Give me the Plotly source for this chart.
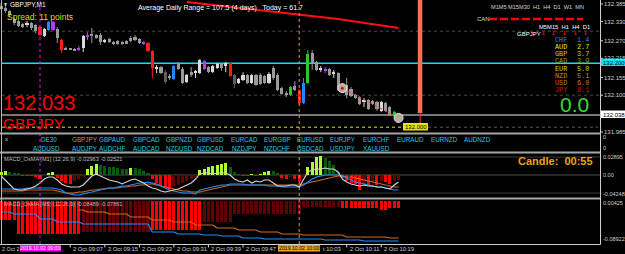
import plotly.graph_objects as go

W, H = 625, 254
SANS = "Liberation Sans, Arial, sans-serif"
MONO = "Liberation Mono, monospace"

# ---------------- data ----------------
minutes = list(range(531, 624))  # M1 bars, minutes since midnight (08:51 .. 10:23)

opens = [
    132.379, 132.373, 132.363, 132.338, 132.332, 132.322, 132.319, 132.326, 132.319, 132.313,
    132.285, 132.304, 132.329, 132.307, 132.272, 132.247, 132.244, 132.244, 132.246, 132.247,
    132.285, 132.291, 132.288, 132.288, 132.269, 132.276, 132.266, 132.269, 132.266, 132.269,
    132.279, 132.282, 132.276, 132.266, 132.263, 132.238, 132.185, 132.188, 132.172, 132.160,
    132.151, 132.201, 132.182, 132.141, 132.172, 132.172, 132.169, 132.207, 132.188, 132.172,
    132.185, 132.197, 132.191, 132.201, 132.163, 132.138, 132.147, 132.163, 132.138, 132.163,
    132.163, 132.160, 132.138, 132.185, 132.163, 132.122, 132.104, 132.101, 132.129, 132.116,
    132.076, 132.138, 132.232, 132.204, 132.182, 132.179, 132.182, 132.169, 132.169, 132.129,
    132.132, 132.119, 132.101, 132.094, 132.082, 132.085, 132.082, 132.079, 132.051, 132.076,
    132.063, 132.035, 132.035]
highs = [
    132.388, 132.382, 132.366, 132.344, 132.335, 132.326, 132.332, 132.329, 132.322, 132.316,
    132.310, 132.332, 132.332, 132.313, 132.276, 132.251, 132.247, 132.247, 132.254, 132.288,
    132.297, 132.310, 132.291, 132.294, 132.276, 132.279, 132.269, 132.272, 132.269, 132.272,
    132.285, 132.288, 132.279, 132.269, 132.266, 132.241, 132.194, 132.191, 132.179, 132.166,
    132.194, 132.204, 132.188, 132.166, 132.188, 132.179, 132.213, 132.210, 132.191, 132.194,
    132.201, 132.201, 132.204, 132.204, 132.166, 132.154, 132.172, 132.166, 132.166, 132.166,
    132.169, 132.163, 132.172, 132.191, 132.169, 132.126, 132.113, 132.129, 132.144, 132.119,
    132.154, 132.241, 132.241, 132.207, 132.191, 132.188, 132.185, 132.179, 132.172, 132.138,
    132.154, 132.126, 132.104, 132.097, 132.091, 132.088, 132.085, 132.082, 132.082, 132.079,
    132.066, 132.051, 132.041]
lows = [
    132.366, 132.357, 132.344, 132.319, 132.313, 132.310, 132.313, 132.304, 132.294, 132.285,
    132.282, 132.301, 132.301, 132.263, 132.232, 132.241, 132.241, 132.238, 132.238, 132.235,
    132.272, 132.263, 132.276, 132.257, 132.263, 132.263, 132.257, 132.257, 132.257, 132.260,
    132.266, 132.269, 132.260, 132.257, 132.235, 132.154, 132.169, 132.166, 132.135, 132.147,
    132.147, 132.179, 132.135, 132.138, 132.157, 132.154, 132.166, 132.179, 132.169, 132.169,
    132.182, 132.176, 132.172, 132.157, 132.122, 132.135, 132.144, 132.135, 132.135, 132.129,
    132.132, 132.135, 132.135, 132.147, 132.113, 132.101, 132.094, 132.097, 132.113, 132.072,
    132.072, 132.135, 132.179, 132.176, 132.172, 132.169, 132.160, 132.154, 132.113, 132.107,
    132.091, 132.094, 132.088, 132.069, 132.063, 132.054, 132.069, 132.051, 132.047, 132.047,
    132.035, 132.032, 132.029]
closes = [
    132.369, 132.363, 132.351, 132.326, 132.316, 132.316, 132.326, 132.310, 132.301, 132.288,
    132.307, 132.329, 132.304, 132.279, 132.241, 132.244, 132.243, 132.241, 132.244, 132.285,
    132.284, 132.285, 132.279, 132.266, 132.268, 132.266, 132.260, 132.260, 132.260, 132.263,
    132.269, 132.272, 132.263, 132.260, 132.238, 132.185, 132.184, 132.169, 132.141, 132.154,
    132.191, 132.182, 132.138, 132.163, 132.166, 132.171, 132.210, 132.182, 132.172, 132.191,
    132.197, 132.185, 132.201, 132.160, 132.135, 132.151, 132.163, 132.138, 132.163, 132.132,
    132.135, 132.138, 132.166, 132.154, 132.116, 132.104, 132.103, 132.126, 132.116, 132.076,
    132.138, 132.229, 132.201, 132.179, 132.180, 132.178, 132.163, 132.168, 132.116, 132.113,
    132.101, 132.097, 132.091, 132.072, 132.080, 132.057, 132.072, 132.057, 132.079, 132.051,
    132.038, 132.047, 132.033]
candle_kind = [
    'g', 'g', 'g', 'g', 'g', 'g', 'w', 'g', 'g', 'r',
    'w', 'b', 'p', 'g', 'r', 'g', 'g', 'g', 'p', 'w',
    'p', 'g', 'g', 'g', 'w', 'g', 'g', 'g', 'g', 'g',
    'g', 'g', 'g', 'p', 'r', 'r', 'w', 'g', 'd', 'g',
    'b', 'g', 'g', 'w', 'g', 'w', 'w', 'p', 'g', 'w',
    'w', 'g', 'w', 'r', 'd', 'w', 'w', 'g', 'w', 'g',
    'g', 'g', 'w', 'g', 'g', 'g', 'g', 'G', 'g', 'r',
    'b', 'G', 'g', 'g', 'w', 'p', 'g', 'w', 'g', 'g',
    'g', 'g', 'g', 'g', 'w', 'g', 'g', 'g', 'w', 'g',
    'g', 'G', 'g']

# MACD_OsMA [M1]
m1_hist = [
    0.006, 0.008, 0.006, 0.004, 0.004, -0.002, -0.002, -0.002, -0.004, -0.008,
    -0.002, 0.004, 0.006, -0.006, -0.012, -0.016, -0.018, -0.012, -0.008, -0.004,
    0.012, 0.018, 0.022, 0.020, 0.018, 0.016, 0.016, 0.014, 0.012, 0.012,
    0.014, 0.014, 0.012, 0.008, 0.004, -0.008, -0.016, -0.022, -0.026, -0.028,
    -0.022, -0.020, -0.016, -0.012, -0.008, -0.004, 0.010, 0.012, 0.016, 0.018,
    0.020, 0.022, 0.024, 0.016, 0.006, 0.002, -0.002, -0.002, 0.002, -0.002,
    0.002, 0.006, 0.008, 0.008, 0.004, -0.006, -0.008, -0.004, -0.008, -0.012,
    -0.004, 0.016, 0.026, 0.036, 0.038, 0.034, 0.028, 0.020, 0.006, -0.006,
    -0.012, -0.016, -0.018, -0.030, -0.018, -0.020, -0.014, -0.020, -0.012, -0.014,
    -0.018, -0.012, -0.010]
m1_white = [
    -0.002, -0.010, -0.020, -0.028, -0.030, -0.030, -0.028, -0.026, -0.022, -0.016,
    -0.008, -0.004, -0.004, -0.010, -0.018, -0.022, -0.024, -0.024, -0.024, -0.020,
    -0.010, -0.002, 0.002, -0.002, -0.006, -0.010, -0.012, -0.014, -0.018, -0.014,
    -0.010, -0.008, -0.012, -0.016, -0.022, -0.026, -0.028, -0.032, -0.034, -0.032,
    -0.030, -0.028, -0.024, -0.020, -0.016, -0.008, 0.002, 0.004, 0.004, 0.002,
    0.004, 0.004, 0.004, 0.000, -0.008, -0.012, -0.014, -0.010, -0.016, -0.012,
    -0.014, -0.010, -0.010, -0.016, -0.022, -0.022, -0.022, -0.020, -0.020, -0.024,
    -0.010, 0.006, 0.010, 0.012, 0.012, 0.014, 0.012, 0.012, 0.006, -0.008,
    -0.014, -0.018, -0.020, -0.022, -0.020, -0.022, -0.022, -0.024, -0.024, -0.026,
    -0.028, -0.020, -0.014]
m1_orange = [
    -0.032, -0.032, -0.032, -0.032, -0.032, -0.032, -0.030, -0.030, -0.030, -0.030,
    -0.030, -0.030, -0.030, -0.032, -0.034, -0.036, -0.036, -0.036, -0.034, -0.034,
    -0.032, -0.030, -0.030, -0.028, -0.028, -0.026, -0.026, -0.026, -0.024, -0.024,
    -0.022, -0.022, -0.020, -0.020, -0.018, -0.018, -0.020, -0.022, -0.024, -0.026,
    -0.028, -0.030, -0.032, -0.032, -0.034, -0.034, -0.034, -0.032, -0.030, -0.028,
    -0.026, -0.024, -0.022, -0.020, -0.020, -0.020, -0.020, -0.020, -0.020, -0.020,
    -0.020, -0.020, -0.020, -0.020, -0.020, -0.020, -0.020, -0.020, -0.020, -0.020,
    -0.018, -0.016, -0.014, -0.012, -0.010, -0.008, -0.006, -0.004, -0.002, -0.002,
    -0.004, -0.004, -0.006, -0.008, -0.010, -0.012, -0.014, -0.016, -0.018, -0.020,
    -0.022, -0.024, -0.024]
m1_blue = [
    -0.028, -0.028, -0.028, -0.028, -0.028, -0.028, -0.026, -0.026, -0.026, -0.026,
    -0.026, -0.026, -0.026, -0.028, -0.030, -0.036, -0.038, -0.040, -0.040, -0.038,
    -0.036, -0.034, -0.032, -0.030, -0.028, -0.026, -0.026, -0.024, -0.022, -0.022,
    -0.020, -0.018, -0.016, -0.016, -0.014, -0.016, -0.018, -0.022, -0.026, -0.030,
    -0.032, -0.034, -0.036, -0.036, -0.036, -0.038, -0.030, -0.028, -0.026, -0.024,
    -0.022, -0.020, -0.020, -0.018, -0.018, -0.018, -0.018, -0.020, -0.020, -0.020,
    -0.020, -0.020, -0.022, -0.022, -0.022, -0.024, -0.024, -0.024, -0.024, -0.024,
    -0.020, -0.014, -0.008, -0.004, -0.002, 0.000, 0.000, 0.000, 0.000, -0.002,
    -0.006, -0.010, -0.014, -0.016, -0.018, -0.020, -0.022, -0.024, -0.024, -0.026,
    -0.028, -0.030, -0.030]

# MACD_OsMA [M5] shown on M1 bars
m5_hist = [
    -0.0475, -0.0475, -0.0475, -0.0475, -0.0825, -0.0825, -0.0825, -0.0825, -0.0825, -0.0825,
    -0.0825, -0.0825, -0.0825, -0.0825, -0.0825, -0.0825, -0.0825, -0.0825, -0.0825, -0.0775,
    -0.0775, -0.0775, -0.0775, -0.0775, -0.0775, -0.0775, -0.0775, -0.0775, -0.0775, -0.0775,
    -0.0775, -0.0775, -0.0775, -0.0775, -0.0775, -0.0725, -0.0725, -0.0725, -0.0725, -0.0725,
    -0.0725, -0.0725, -0.0725, -0.0725, -0.0725, -0.0725, -0.0725, -0.0525, -0.0525, -0.0525,
    -0.0525, -0.0525, -0.0525, -0.0525, -0.0325, -0.0325, -0.0325, -0.0325, -0.0325, -0.0325,
    -0.0325, -0.0325, -0.0325, -0.0325, -0.0325, -0.0325, -0.0325, -0.0325, -0.0325, -0.0325,
    -0.015, -0.015, -0.015, -0.015, -0.015, -0.015, -0.015, -0.015, -0.015, -0.0175,
    -0.0175, -0.0175, -0.0175, -0.0175, -0.0175, -0.0175, -0.0175, -0.0175, -0.0225, -0.0225,
    -0.0175, -0.0175, -0.0175]
m5_kind = [
    'r', 'r', 'r', 'r', 'r', 'r', 'r', 'r', 'r', 'r',
    'r', 'r', 'r', 'r', 'r', 'r', 'r', 'r', 'r', 'k',
    'k', 'k', 'k', 'k', 'k', 'k', 'k', 'k', 'k', 'k',
    'k', 'k', 'k', 'k', 'k', 'r', 'r', 'r', 'r', 'r',
    'r', 'r', 'r', 'r', 'r', 'r', 'r', 'k', 'k', 'k',
    'k', 'k', 'k', 'k', 'k', 'k', 'k', 'k', 'k', 'k',
    'k', 'k', 'k', 'k', 'k', 'k', 'k', 'k', 'k', 'k',
    'k', 'k', 'k', 'k', 'k', 'k', 'k', 'k', 'k', 'r',
    'r', 'r', 'r', 'r', 'r', 'r', 'r', 'r', 'r', 'r',
    'r', 'r', 'r']
m5_blue = [
    -0.0275, -0.0275, -0.0275, -0.0325, -0.0325, -0.0325, -0.0325, -0.0325, -0.0325, -0.045,
    -0.045, -0.045, -0.045, -0.0525, -0.0525, -0.0525, -0.0525, -0.0525, -0.0525, -0.0575,
    -0.0575, -0.0575, -0.0575, -0.0575, -0.0575, -0.0575, -0.0575, -0.0575, -0.0575, -0.0575,
    -0.0575, -0.0575, -0.0575, -0.0575, -0.0575, -0.0775, -0.0775, -0.0775, -0.0775, -0.0775,
    -0.0775, -0.0825, -0.0825, -0.0825, -0.0825, -0.0825, -0.0825, -0.085, -0.085, -0.085,
    -0.085, -0.0875, -0.0875, -0.0875, -0.0875, -0.0875, -0.0925, -0.0925, -0.0925, -0.0925,
    -0.0925, -0.095, -0.095, -0.095, -0.095, -0.095, -0.095, -0.095, -0.095, -0.095,
    -0.095, -0.095, -0.095, -0.095, -0.095, -0.0975, -0.0975, -0.0975, -0.0975, -0.0975,
    -0.0975, -0.0975, -0.0975, -0.0975, -0.100, -0.100, -0.100, -0.100, -0.100, -0.100,
    -0.100, -0.100, -0.100]
m5_orange = [
    None, None, None, None, None, None, None, None, None, None,
    None, None, None, None, None, None, None, None, -0.0225, -0.0225,
    -0.0275, -0.0275, -0.0275, -0.0275, -0.0275, -0.0325, -0.0325, -0.0325, -0.0325, -0.0325,
    -0.040, -0.040, -0.040, -0.040, -0.040, -0.0475, -0.0475, -0.0475, -0.0475, -0.0475,
    -0.0525, -0.0525, -0.0525, -0.0525, -0.0525, -0.060, -0.060, -0.060, -0.060, -0.060,
    -0.0675, -0.0675, -0.0675, -0.0675, -0.0675, -0.0725, -0.0725, -0.0725, -0.0725, -0.0725,
    -0.0775, -0.0775, -0.0775, -0.0775, -0.0775, -0.0825, -0.0825, -0.0825, -0.0825, -0.0825,
    -0.085, -0.085, -0.085, -0.085, -0.085, -0.085, -0.085, -0.085, -0.085, -0.085,
    -0.090, -0.090, -0.090, -0.090, -0.090, -0.090, -0.090, -0.090, -0.090, -0.090,
    -0.0925, -0.0925, -0.0925]

# trend line (red), signal circles
ma_minutes = [574, 589, 600, 609, 616, 623]
ma_prices = [132.391, 132.368, 132.350, 132.338, 132.324, 132.310]
signal_minutes = [610, 623]
signal_prices = [132.122, 132.029]

level_cyan = 132.200
bid_price = 132.038
level_yellow = 132.000
grid_levels = [132.300, 132.100]
price_ticks = [132.385, 132.330, 132.270, 132.215, 132.155, 132.100, 131.985]

time_tick_minutes = [531, 547, 555, 563, 571, 579, 587, 603, 611, 619]
time_tick_labels = ["2 Oct 2", "2 Oct 09:07", "2 Oct 09:15", "2 Oct 09:23", "2 Oct 09:31",
                    "2 Oct 09:39", "2 Oct 09:47", "t 10:03", "2 Oct 10:11", "2 Oct 10:19"]
time_label_shift = [0, 2, 2, 2, 2, 2, 2, 10, 2, 2]

currencies = ['CHF', 'AUD', 'GBP', 'CAD', 'EUR', 'NZD', 'USD', 'JPY']
strengths = [1.4, 2.7, 3.7, 3.9, 5.0, 5.1, 6.0, 8.1]
currency_colors = ['#2a7fff', '#e6e600', '#caca00', '#9c9c00', '#d8d800', '#c89600', '#c87800', '#e00000']

symbols_row1 = ['DE30', 'GBPJPY', 'GBPAUD', 'GBPCAD', 'GBPNZD', 'GBPUSD', 'EURCAD', 'EURGBP',
                'EURUSD', 'EURJPY', 'EURCHF', 'EURAUD', 'EURNZD', 'AUDNZD']
symbols_row2 = ['AUDUSD', 'AUDJPY', 'AUDCHF', 'AUDCAD', 'NZDUSD', 'NZDCAD', 'NZDJPY', 'NZDCHF',
                'USDCAD', 'USDJPY', 'XAUUSD']

# ---------------- layout helpers ----------------
X0 = 540 - 40 / 4.32
X1 = X0 + W / 4.32


def px(x):
    return x / W


def py(y):
    return 1 - y / H


shapes = []
annotations = []


def seg(x0, y0, x1, y1, color, width=1, dash='solid', layer='above', xref='paper', yref='paper'):
    shapes.append(dict(type='line', x0=x0, y0=y0, x1=x1, y1=y1, xref=xref, yref=yref,
                       line=dict(color=color, width=width, dash=dash), layer=layer))


def rect(x0, y0, x1, y1, fill, layer='above', xref='paper', yref='paper'):
    shapes.append(dict(type='rect', x0=x0, y0=y0, x1=x1, y1=y1, xref=xref, yref=yref,
                       fillcolor=fill, line=dict(width=0), layer=layer))


def label(x, y, text, size, color, anchor='left', family=SANS, xref='paper', yref='paper', xshift=0):
    annotations.append(dict(x=x, y=y, xref=xref, yref=yref, text=text, showarrow=False,
                            xanchor=anchor, yanchor='middle', xshift=xshift, borderpad=0,
                            font=dict(size=size, color=color, family=family)))


fig = go.Figure()

# ---------------- main chart: candles ----------------
CANDLE_COL = {'g': '#9a9a9a', 'w': '#dadada', 'd': '#5e5e5e', 'r': '#ff1c1c',
              'b': '#1e88ff', 'p': '#b43cff', 'G': '#2ac82a'}
MINB = 0.003
for code, col in CANDLE_COL.items():
    idx = [i for i, k in enumerate(candle_kind) if k == code]
    if not idx:
        continue
    wx, wy = [], []
    for i in idx:
        wx += [minutes[i], minutes[i], None]
        wy += [lows[i], highs[i], None]
    fig.add_trace(go.Scatter(x=wx, y=wy, mode='lines', line=dict(color=col, width=1),
                             hoverinfo='skip', xaxis='x', yaxis='y'))
    bases, hts = [], []
    for i in idx:
        lo, hi = min(opens[i], closes[i]), max(opens[i], closes[i])
        if hi - lo < MINB:
            mid = (hi + lo) / 2
            lo, hi = mid - MINB / 2, mid + MINB / 2
        bases.append(lo)
        hts.append(hi - lo)
    fig.add_trace(go.Bar(x=[minutes[i] for i in idx], y=hts, base=bases, width=0.72,
                         marker=dict(color=col, line=dict(width=0)), hoverinfo='skip',
                         xaxis='x', yaxis='y'))

fig.add_trace(go.Scatter(x=ma_minutes, y=ma_prices, mode='lines', line=dict(color='#ff1010', width=2),
                         hoverinfo='skip', xaxis='x', yaxis='y'))
fig.add_trace(go.Scatter(x=signal_minutes, y=signal_prices, mode='lines',
                         line=dict(color='#ff2020', width=1, dash='dot'), hoverinfo='skip',
                         xaxis='x', yaxis='y'))
fig.add_trace(go.Scatter(x=signal_minutes, y=signal_prices, mode='markers',
                         marker=dict(size=9, color='#b4ab9c', line=dict(color='#e8e8e8', width=1)),
                         hoverinfo='skip', xaxis='x', yaxis='y'))
fig.add_trace(go.Scatter(x=signal_minutes[:1], y=signal_prices[:1], mode='markers',
                         marker=dict(size=3, color='#ff0000'), hoverinfo='skip', xaxis='x', yaxis='y'))

# ---------------- MACD M1 ----------------
m1_cols = []
prev = None
for v in m1_hist:
    rising = prev is None or v > prev
    if v >= 0:
        m1_cols.append('#adff2f' if rising else '#0b5a0b')
    else:
        m1_cols.append('#650000' if rising else '#ff0000')
    prev = v
fig.add_trace(go.Bar(x=minutes, y=m1_hist, width=0.7, marker=dict(color=m1_cols, line=dict(width=0)),
                     hoverinfo='skip', xaxis='x', yaxis='y2'))
for series, col in [(m1_orange, '#d2691e'), (m1_blue, '#1e90ff'), (m1_white, '#d4d4d4')]:
    fig.add_trace(go.Scatter(x=minutes, y=series, mode='lines', line=dict(color=col, width=1.1),
                             hoverinfo='skip', xaxis='x', yaxis='y2'))

# ---------------- MACD M5 ----------------
m5_cols = ['#ff0000' if k == 'r' else '#650000' for k in m5_kind]
fig.add_trace(go.Bar(x=minutes, y=m5_hist, width=0.7, marker=dict(color=m5_cols, line=dict(width=0)),
                     hoverinfo='skip', xaxis='x', yaxis='y3'))
fig.add_trace(go.Scatter(x=minutes, y=m5_orange, mode='lines', line=dict(color='#d2691e', width=1.2),
                         hoverinfo='skip', xaxis='x', yaxis='y3'))
fig.add_trace(go.Scatter(x=minutes, y=m5_blue, mode='lines', line=dict(color='#1e90ff', width=1.2),
                         hoverinfo='skip', xaxis='x', yaxis='y3'))

# ---------------- shapes ----------------
for lvl in grid_levels:
    seg(px(2), lvl, px(600), lvl, '#4e4e4e', 1, 'dot', 'below', yref='y')
seg(px(2), level_cyan, px(600), level_cyan, '#00e6f6', 1.5, layer='below', yref='y')
seg(px(2), bid_price, px(600), bid_price, '#777777', 2, layer='below', yref='y')
seg(px(2), level_yellow, px(403), level_yellow, '#e8e800', 1, 'dot', yref='y')
seg(px(428), level_yellow, px(598), level_yellow, '#5a5a5a', 1, 'dot', yref='y')
# future bar marker
rect(627.45, py(113), 628.5, py(0), '#f4705a', xref='x')
seg(628, py(113), 628, py(123), '#ff3030', 1, xref='x')
# MACD M1 levels
seg(px(2), 0.036, px(600), 0.036, '#383838', 1, layer='below', yref='y2')
seg(px(2), -0.036, px(600), -0.036, '#383838', 1, layer='below', yref='y2')
seg(px(2), 0, px(600), 0, '#505050', 1, layer='below', yref='y2')
# vertical time markers
seg(540, py(244), 540, 1, '#ff00ff', 1, 'dot', xref='x')
seg(600, py(244), 600, 1, '#e0a030', 1, 'dot', xref='x')
# window separators / frame
for yy in [133.5, 152.5, 198.5]:
    seg(0, py(yy), px(600), py(yy), '#a6a6a6', 2)
seg(px(1.5), py(0), px(1.5), py(244), '#b8b8b8', 1)
seg(px(600.5), py(0), px(600.5), py(244.5), '#d0d0d0', 1)
seg(0, py(244.5), px(600.5), py(244.5), '#d0d0d0', 1)
# top-right dashed bar
seg(px(489), py(19), px(583), py(19), '#ff0000', 2.5, '8px,3px')
# price-axis ticks
for p in price_ticks:
    seg(px(600), p, px(603), p, '#d0d0d0', 1, yref='y')
# time-axis ticks
for t in time_tick_minutes[1:]:
    seg(t, py(244.5), t, py(247.5), '#d0d0d0', 1, xref='x')
# label boxes
rect(px(601), py(66), px(625), py(58.5), '#00e0f0')
rect(px(601), py(118), px(625), py(110.5), '#ffffff')
rect(px(403), py(130.5), px(428), py(123), '#e6e600')
rect(px(20), py(251.5), px(61), py(245), '#ff00ff')
rect(px(278), py(251.5), px(320), py(245), '#f0a020')

# ---------------- text ----------------
label(px(2), py(4.5), '▼', 5, '#e0e0e0')
label(px(9), py(5), 'GBPJPY,M1', 6.5, '#ffffff')
label(px(6), py(16.5), 'Spread: 11 points', 8.5, '#dede00')
label(px(137), py(8), 'Average Daily Range = 107.5 (4 days)\u00a0\u00a0\u00a0Today = 61.7', 7, '#ffffff')

label(px(490), py(7), 'M1M5 M15M30\u00a0\u00a0H1\u00a0\u00a0H4\u00a0\u00a0D1\u00a0\u00a0W1\u00a0\u00a0MN', 5.6, '#d6d6d6')
label(px(476), py(19), 'CAN', 6, '#d6d6d6')
label(px(538), py(27), 'M5M15\u00a0\u00a0H1\u00a0\u00a0H4\u00a0\u00a0D1', 5.8, '#ffffff')
label(px(516), py(34.5), 'GBPJPY', 6, '#ffffff')
for ax in [543, 553.5, 564, 575, 585.5]:
    label(px(ax), py(33), '<b>↓</b>', 5.5, '#ff0000', anchor='center', family='DejaVu Sans')
for k, (cur, val, col) in enumerate(zip(currencies, strengths, currency_colors)):
    yy = 40 + k * 7.15
    label(px(554), py(yy), cur, 6.8, col, family=MONO)
    label(px(576), py(yy), '%.1f' % val, 6.8, col, family=MONO)

label(px(2), py(103), '132.033', 20, '#ff0000')
label(px(2), py(123), 'GBPJPY', 15.5, '#ff0000')
label(px(590), py(105), '0.0', 21, '#33dd33', anchor='right')
label(px(594), py(161), '<b>Candle:\u00a0\u00a000:55</b>', 11, '#e8a317', anchor='right')

# symbol buttons
row1_x = [49, 85, 112, 146, 179, 210, 244, 277, 310, 343, 376, 410, 444, 477]
row2_x = [46, 85, 112, 146, 179, 210, 244, 277, 310, 343, 376]
label(px(4), py(139), 'x', 6, '#d0d0d0')
for s, xx in zip(symbols_row1, row1_x):
    label(px(xx), py(139.5), s, 6.3, '#d8901e' if s == 'GBPJPY' else '#1ec8e0', anchor='center')
for s, xx in zip(symbols_row2, row2_x):
    label(px(xx), py(148.5), s, 6.3, '#1ec8e0', anchor='center')

label(px(3), py(158.5), 'MACD_OsMA [M1] (12,26,9) -0.02963 -0.02521', 5.6, '#bcbcbc')
label(px(3), py(203.5), 'MACD_OsMA [M5] (12,26,9) -0.08489 -0.07861', 5.6, '#bcbcbc')

# price scale
for p in price_ticks:
    label(px(603), p, '%.3f' % p, 6, '#d0d0d0', yref='y')
label(px(602), level_cyan, '%.3f' % level_cyan, 6, '#000000', yref='y')
label(px(602), bid_price, '%.3f' % bid_price, 6, '#000000', yref='y')
label(px(404), py(127), '%.3f' % level_yellow, 6, '#000000')
for yy, s in [(137, '0'), (148, '0'), (157, '0.02895'), (175, '0.00'), (193.5, '-0.04248'),
              (202.5, '0.00425'), (239, '-0.08922')]:
    label(px(601.5), py(yy), s, 5.5, '#d0d0d0')

# time scale
for t, s, sh in zip(time_tick_minutes, time_tick_labels, time_label_shift):
    label(t, py(249), s, 5.4 if sh == 0 else 5.8, '#d0d0d0', xref='x', xshift=sh)
label(px(40.5), py(248.3), '2019.10.02 09:00', 5.2, '#ffffff', anchor='center')
label(px(299), py(248.3), '2019.10.02 10:00', 5.2, '#000000', anchor='center')

fig.update_layout(
    width=W, height=H, margin=dict(l=0, r=0, t=0, b=0, pad=0), autosize=False,
    paper_bgcolor='#000000', plot_bgcolor='#000000', showlegend=False,
    barmode='overlay', bargap=0,
    xaxis=dict(range=[X0, X1], visible=False, fixedrange=True),
    yaxis=dict(domain=[1 - 133 / H, 1], range=[131.981875, 132.3975], visible=False, fixedrange=True),
    yaxis2=dict(domain=[1 - 198 / H, 1 - 154 / H], range=[-0.046, 0.042], visible=False, fixedrange=True),
    yaxis3=dict(domain=[1 - 243 / H, 1 - 199 / H], range=[-0.105, 0.005], visible=False, fixedrange=True),
    shapes=shapes, annotations=annotations,
)

fig.write_html("out.html", config={'displayModeBar': False})
